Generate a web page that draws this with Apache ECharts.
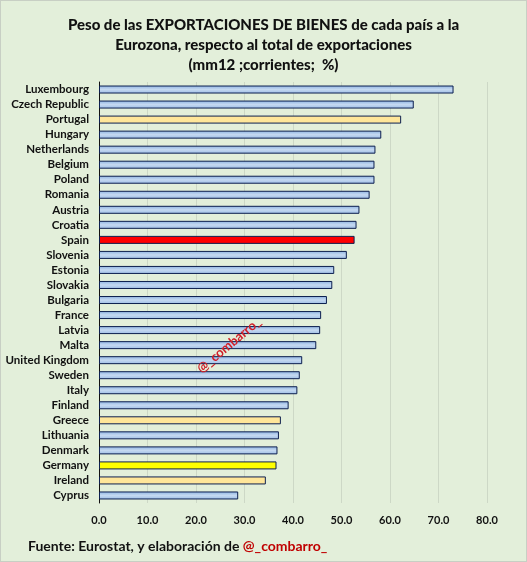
<!DOCTYPE html>
<html>
<head>
<meta charset="utf-8">
<script src="https://cdn.jsdelivr.net/npm/echarts@6/dist/echarts.min.js"></script>
<style>
  html, body { margin: 0; padding: 0; background: #e3efda; }
  #chart { width: 527px; height: 562px; box-sizing: border-box; border: 1px solid #c8cfc4; }
</style>
</head>
<body>
<div id="chart"></div>
<script>
var countries = ['Luxembourg', 'Czech Republic', 'Portugal', 'Hungary', 'Netherlands', 'Belgium', 'Poland',
  'Romania', 'Austria', 'Croatia', 'Spain', 'Slovenia', 'Estonia', 'Slovakia', 'Bulgaria', 'France',
  'Latvia', 'Malta', 'United Kingdom', 'Sweden', 'Italy', 'Finland', 'Greece', 'Lithuania', 'Denmark',
  'Germany', 'Ireland', 'Cyprus'];
var values = [73.1, 64.9, 62.3, 58.2, 57.0, 56.8, 56.8, 55.8, 53.7, 53.1, 52.7, 51.1, 48.5, 48.1, 47.0,
  45.8, 45.6, 44.8, 41.9, 41.4, 40.9, 39.1, 37.5, 37.1, 36.8, 36.6, 34.4, 28.7];
var orangeOnes = ['Portugal', 'Greece', 'Ireland'];

var dom = document.getElementById('chart');
var myChart = echarts.init(dom, null, { renderer: 'canvas' });

var font = 'Lato, "Open Sans", sans-serif';
var blue = new echarts.graphic.LinearGradient(0, 0, 0, 1, [
  { offset: 0, color: '#8db3e2' },
  { offset: 0.5, color: '#c5d9f1' },
  { offset: 1, color: '#9dbde6' }
]);

var barData = values.map(function (v, i) {
  var name = countries[i];
  var color = blue;
  if (name === 'Spain') color = '#ff0000';
  else if (name === 'Germany') color = '#ffff00';
  else if (orangeOnes.indexOf(name) >= 0) color = '#ffe699';
  return { value: v, itemStyle: { color: color } };
});

var option = {
  backgroundColor: '#e3efda',
  animation: false,
  title: {
    text: 'Peso de las EXPORTACIONES DE BIENES de cada país a la\nEurozona, respecto al total de exportaciones\n(mm12 ;corrientes;  %)',
    left: 'center',
    top: 9,
    textStyle: { fontFamily: font, fontWeight: 900, fontSize: 15, lineHeight: 20, color: '#111' }
  },
  grid: { left: 98, right: 39, top: 81, bottom: 58 },
  xAxis: {
    type: 'value',
    min: 0,
    max: 80,
    interval: 10,
    axisLine: { show: false },
    axisTick: { show: false },
    splitLine: { lineStyle: { color: '#cdd8c6', width: 1 } },
    axisLabel: {
      margin: 12,
      fontFamily: font, fontWeight: 'bold', fontSize: 11, color: '#111',
      formatter: function (v) { return v.toFixed(1); }
    }
  },
  yAxis: {
    type: 'category',
    inverse: true,
    data: countries,
    axisLine: { show: true, lineStyle: { color: '#111', width: 1 } },
    axisTick: { show: false },
    axisLabel: { interval: 0, margin: 10, fontFamily: font, fontWeight: 'bold', fontSize: 11.5, color: '#111' }
  },
  series: [{
    type: 'bar',
    data: barData,
    barWidth: 8,
    itemStyle: { borderColor: '#0d1f4f', borderWidth: 1 }
  }],
  graphic: [
    {
      type: 'text',
      x: 228, y: 344,
      z: 100,
      rotation: 40 * Math.PI / 180,
      style: {
        text: '@_combarro_',
        fill: '#d0202a',
        font: 'bold 13px ' + font,
        align: 'center',
        verticalAlign: 'middle'
      }
    },
    {
      type: 'text',
      left: 27, top: 538,
      z: 100,
      style: {
        text: '{a|Fuente: Eurostat, y elaboración de }{b|@_combarro_}',
        rich: {
          a: { fill: '#111', font: 'bold 14px ' + font },
          b: { fill: '#c00000', font: 'bold 14px ' + font }
        }
      }
    }
  ]
};

myChart.setOption(option);
window.addEventListener('resize', myChart.resize);
</script>
</body>
</html>
